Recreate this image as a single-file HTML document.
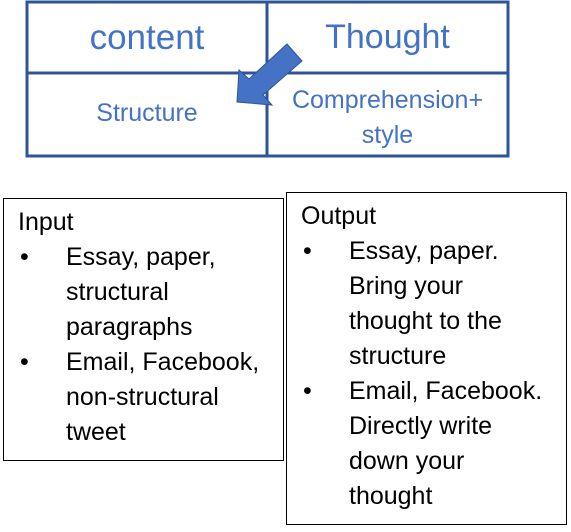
<!DOCTYPE html>
<html><head><style>
body{margin:0;width:571px;height:532px;background:#fff;position:relative;font-family:"Liberation Sans",sans-serif;overflow:hidden}
.c{position:absolute;color:#4472C4;text-align:center;white-space:nowrap}
.box{position:absolute;border:1.5px solid #000;box-sizing:border-box;font-size:25px;line-height:35px;color:#000}
.box div{position:absolute;white-space:nowrap}
</style></head><body>
<svg width="571" height="170" style="position:absolute;left:0;top:0">
<g stroke="#2F5597" stroke-width="3" fill="none">
<rect x="27" y="2" width="481" height="154"/>
<line x1="267" y1="2" x2="267" y2="156"/>
<line x1="27" y1="73" x2="508" y2="73"/>
</g>
<polygon points="287,44 302,61 263,95 272,105 237,102 239,70 249,79" fill="#4472C4" stroke="#2F5597" stroke-width="1"/>
</svg>
<div class="c" style="left:27px;width:240px;top:18px;font-size:35px">content</div>
<div class="c" style="left:267px;width:241px;top:18px;font-size:34px">Thought</div>
<div class="c" style="left:27px;width:240px;top:99px;font-size:25px">Structure</div>
<div class="c" style="left:267px;width:241px;top:83px;font-size:25px;line-height:35px">Comprehension+<br>style</div>
<div class="box" style="left:3px;top:198px;width:281px;height:263px">
<div style="left:14px;top:6px">Input</div>
<div style="left:16px;top:41px">•</div><div style="left:62px;top:41px">Essay, paper,<br>structural<br>paragraphs</div>
<div style="left:16px;top:146px">•</div><div style="left:62px;top:146px">Email, Facebook,<br>non-structural<br>tweet</div>
</div>
<div class="box" style="left:286px;top:192px;width:281px;height:333px">
<div style="left:14px;top:6px">Output</div>
<div style="left:16px;top:41px">•</div><div style="left:62px;top:41px">Essay, paper.<br>Bring your<br>thought to the<br>structure</div>
<div style="left:16px;top:181px">•</div><div style="left:62px;top:181px">Email, Facebook.<br>Directly write<br>down your<br>thought</div>
</div>
</body></html>
